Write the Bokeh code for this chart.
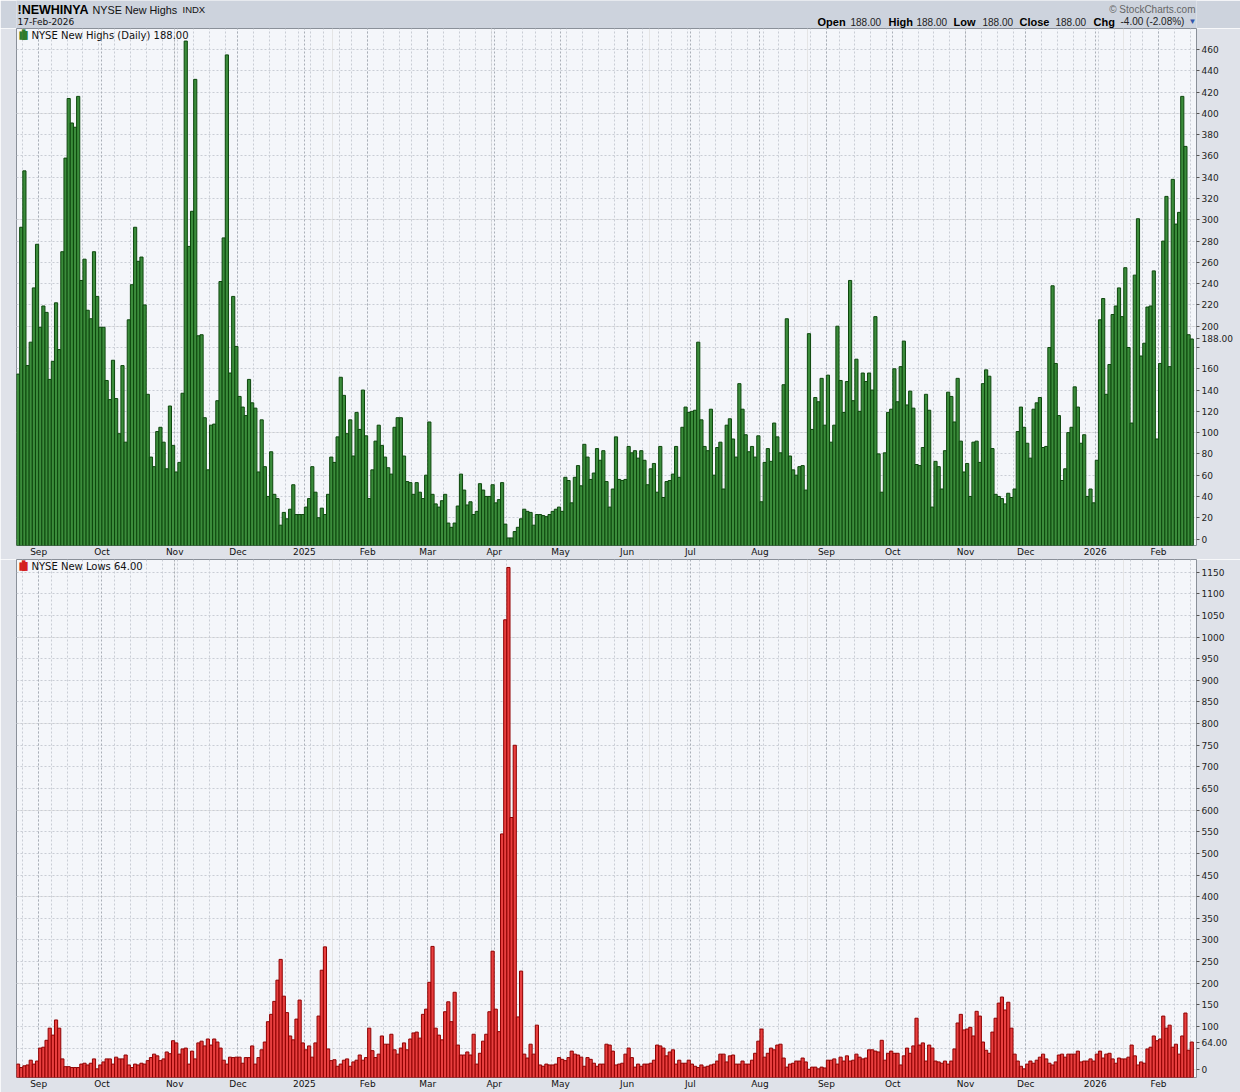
import numpy as np
import pandas as pd
from bokeh.plotting import figure
from bokeh.models import (Range1d, FixedTicker, SingleIntervalTicker, LinearAxis,
                          Grid, Label, ColumnDataSource)
from bokeh.layouts import column
from bokeh.embed import file_html
from bokeh.resources import INLINE

# ---------------- data ----------------
START = "2024-08-22"
END = "2026-02-17"
HOLIDAYS = ["2024-09-02", "2024-11-28", "2024-12-25", "2025-01-01", "2025-01-09",
            "2025-01-20", "2025-02-17", "2025-04-18", "2025-05-26", "2025-06-19",
            "2025-07-04", "2025-09-01", "2025-11-27", "2025-12-25", "2026-01-01",
            "2026-01-19", "2026-02-16"]

new_highs = [
    155, 293, 346, 163, 185, 236, 277, 199, 219, 213,
    150, 167, 222, 178, 270, 358, 414, 391, 387, 416,
    243, 263, 215, 207, 270, 228, 199, 199, 149, 131,
    168, 132, 99, 163, 91, 206, 239, 293, 261, 265,
    220, 136, 77, 68, 101, 105, 91, 66, 125, 88,
    63, 72, 137, 468, 275, 308, 432, 191, 192, 114,
    65, 107, 108, 130, 242, 283, 455, 156, 228, 181,
    134, 124, 116, 150, 128, 123, 63, 112, 68, 40,
    82, 42, 38, 13, 25, 19, 28, 51, 23, 23,
    23, 30, 38,
    68, 44, 20, 29, 23, 42, 77, 72, 96, 152,
    135, 99, 112, 78, 119, 103, 140, 97, 38, 65,
    92, 107, 88, 77, 67, 61, 105, 114, 114, 78,
    54, 53, 42, 53, 44, 38, 60, 110, 42, 33,
    30, 36, 42, 15, 11, 15, 31, 61, 46, 32,
    35, 23, 26, 52, 46, 40, 40, 51, 34, 37,
    53, 14, 1, 1, 7, 11, 19, 28, 26, 25,
    13, 23, 23, 22, 21, 23, 26, 28, 30, 26,
    58, 55, 34, 58, 69, 50, 89, 77, 56, 62,
    85, 74, 83, 54, 30,
    47, 96, 56, 55, 56, 87, 81, 83, 76, 83,
    74, 51, 66, 71, 44, 87, 39, 54, 55, 61,
    87, 58, 105, 124, 119, 120, 121, 185, 112, 87,
    83, 122, 60, 86, 91, 47, 107, 113, 94, 77,
    146, 122, 98, 82, 87, 77, 97, 35, 72, 85,
    73, 109, 96, 81, 145, 207, 78, 65, 60, 68,
    69, 46, 193, 103, 133, 129, 151, 107, 154, 91,
    107, 200, 149, 119, 148, 243, 130, 169, 120, 156,
    148, 156, 140, 209, 80, 44, 81, 119, 122, 160,
    129,
    162, 186, 126, 139, 123, 70, 69, 86, 136, 121,
    30, 73, 68, 47, 83, 138, 134, 110, 151, 92,
    63, 71, 40, 91, 92, 72, 146, 159, 153, 85,
    42, 40, 38, 33, 43, 39, 47, 101, 124, 105,
    90, 76, 122, 128, 133, 86, 87, 180, 238, 165,
    116, 55, 66, 100, 105, 143, 124, 90, 98, 40,
    47, 34, 74, 206, 226, 136, 164, 211, 219, 236,
    209, 255, 180, 109, 248, 301, 172, 184, 218, 219,
    252, 94, 165, 280, 322, 162, 338, 296, 307, 416,
    369, 192, 188,
]

new_lows = [
    13, 5, 9, 11, 22, 13, 20, 50, 52, 68,
    96, 80, 115, 96, 25, 7, 7, 5, 5, 5,
    13, 15, 11, 15, 25, 2, 11, 18, 25, 25,
    13, 29, 25, 25, 34, 11, 5, 13, 11, 15,
    13, 21, 28, 36, 32, 21, 25, 41, 37, 67,
    62, 36, 48, 50, 13, 43, 25, 62, 66, 55,
    71, 57, 71, 64, 50, 22, 13, 29, 28, 29,
    29, 15, 28, 28, 55, 13, 28, 46, 64, 111,
    128, 158, 207, 255, 170, 132, 78, 69, 117, 161,
    62, 46, 55,
    29, 62, 124, 230, 284, 48, 21, 23, 8, 13,
    22, 25, 8, 18, 22, 34, 22, 28, 96, 44,
    28, 36, 78, 59, 59, 82, 46, 36, 50, 62,
    46, 71, 85, 87, 73, 128, 140, 202, 285, 96,
    80, 69, 134, 157, 111, 179, 57, 34, 34, 41,
    34, 82, 13, 38, 66, 82, 134, 274, 140, 88,
    545, 1040, 1161, 583, 750,
    122, 228, 36, 27, 59, 36, 103, 11, 8, 13,
    11, 11, 13, 28, 24, 21, 28, 43, 36, 34,
    29, 8, 28, 24, 15, 8, 13, 13, 59, 57,
    43, 11, 13, 15, 36, 50, 28, 6, 13, 8,
    13, 13, 15, 22, 57, 55, 50, 32, 41, 46,
    13, 22, 15, 15, 22, 13, 8, 5, 11, 6,
    8, 11, 13, 20, 36, 36, 18, 32, 34, 13,
    13, 20, 13, 13, 22, 38, 66, 94, 29, 38,
    50, 46, 57, 59, 27, 6, 13, 15, 20, 20,
    27, 18, 1, 6, 6, 2, 6, 4, 22, 22,
    25, 13, 29, 20, 32, 20, 22, 36, 29, 25,
    27, 46, 46, 43, 41, 68, 22, 38, 43, 38,
    38,
    11, 32, 50, 38, 55, 119, 57, 62, 20, 57,
    50, 20, 18, 15, 20, 13, 20, 48, 108, 128,
    92, 94, 98, 78, 135, 124, 64, 45, 38, 87,
    119, 154, 168, 138, 156, 96, 36, 20, 8, 2,
    13, 20, 15, 22, 29, 36, 25, 15, 11, 18,
    34, 36, 29, 36, 36, 36, 43, 18, 20, 20,
    25, 20, 36, 43, 27, 36, 38, 25, 15, 27,
    25, 25, 29, 57, 32, 11, 18, 15, 48, 52,
    78, 67, 71, 124, 96, 103, 52, 59, 36, 78,
    131, 45, 64,
]

MONTH_NAMES = ["Jan", "Feb", "Mar", "Apr", "May", "Jun",
               "Jul", "Aug", "Sep", "Oct", "Nov", "Dec"]
top_ticks = list(range(0, 461, 20))
bottom_ticks = list(range(0, 1151, 50))

header_symbol = "!NEWHINYA"
header_name = "NYSE New Highs"
header_exch = "INDX"
header_date = "17-Feb-2026"
ohlc_labels = ["Open", "High", "Low", "Close", "Chg"]
ohlc_values = ["188.00", "188.00", "188.00", "188.00", "-4.00 (-2.08%)"]
top_legend = "NYSE New Highs (Daily) 188.00"
bottom_legend = "NYSE New Lows 64.00"

# ---------------- derived ----------------
days = pd.bdate_range(START, END, freq="C", holidays=HOLIDAYS)
n = min(len(days), len(new_highs), len(new_lows))
days = days[-n:]
highs = np.array(new_highs[-n:], dtype=float)
lows = np.array(new_lows[-n:], dtype=float)
xc = np.arange(n) + 0.5

month_pos, month_lab, week_pos = [], {}, []
for i in range(1, n):
    if days[i].month != days[i - 1].month:
        month_pos.append(i)
        month_lab[i] = (str(days[i].year) if days[i].month == 1
                        else MONTH_NAMES[days[i].month - 1])
    if days[i].weekday() < days[i - 1].weekday() or (days[i] - days[i - 1]).days > 3:
        week_pos.append(i)

BG = "#dfe2e9"
HEAD = "#cdd3dd"
PLOT_BG = "#f4f6fa"
OUTLINE = "#8a9099"
GRID = "#c9cdd5"
MGRID = "#a9aeb7"
FONT = "DejaVu Sans"

FRAME_W = 1180
LEFT = 16
TOTAL_W = 1240
RIGHT = TOTAL_W - FRAME_W - LEFT


def panel(values, ymin, ymax, ticks, grid_int, frame_h, bottom_border, fill, line,
          legend, icon_color, hide_tick):
    p = figure(frame_width=FRAME_W, frame_height=frame_h,
               x_range=Range1d(0, n + 1), y_range=Range1d(ymin, ymax),
               output_backend="svg", toolbar_location=None,
               x_axis_location=None, y_axis_location=None,
               min_border_left=LEFT, min_border_right=RIGHT,
               min_border_top=0, min_border_bottom=bottom_border,
               background_fill_color=PLOT_BG, border_fill_color=BG,
               outline_line_color=OUTLINE, outline_line_width=1)
    src = ColumnDataSource(dict(x=xc, top=values))
    p.vbar(x="x", top="top", bottom=ymin, width=1.0, source=src,
           fill_color=fill, line_color=line, line_width=1)

    yg = Grid(dimension=1, ticker=SingleIntervalTicker(interval=grid_int),
              grid_line_color=GRID, grid_line_dash="2 2", grid_line_width=1)
    wg = Grid(dimension=0, ticker=FixedTicker(ticks=week_pos),
              grid_line_color=GRID, grid_line_dash="2 2", grid_line_width=1)
    mg = Grid(dimension=0, ticker=FixedTicker(ticks=month_pos),
              grid_line_color=MGRID, grid_line_dash="2 2", grid_line_width=1)
    for g in (yg, wg, mg):
        p.add_layout(g)

    last = float(values[-1])
    overrides = {int(last): f"{last:.2f}", hide_tick: ""}
    ra = LinearAxis(ticker=FixedTicker(ticks=ticks + [int(last)]),
                    major_label_overrides=overrides)
    ra.axis_line_color = None
    ra.major_tick_line_color = "#555555"
    ra.major_tick_out = 3
    ra.major_tick_in = 0
    ra.minor_tick_line_color = None
    ra.major_label_standoff = 2
    ra.major_label_text_font = FONT
    ra.major_label_text_font_size = "9px"
    ra.major_label_text_color = "#222222"
    p.add_layout(ra, "right")

    ba = LinearAxis(ticker=FixedTicker(ticks=month_pos),
                    major_label_overrides=month_lab)
    ba.axis_line_color = None
    ba.major_tick_line_color = None
    ba.minor_tick_line_color = None
    ba.major_tick_out = 0
    ba.major_tick_in = 0
    ba.major_label_standoff = 1
    ba.major_label_text_font = FONT
    ba.major_label_text_font_size = "9px"
    ba.major_label_text_color = "#111111"
    p.add_layout(ba, "below")

    # legend inside the frame (icon + text)
    ppu = (ymax - ymin) / frame_h
    xpu = (n + 1) / FRAME_W
    for dx, fs in ((3.0, "7px"), (5.6, "9px"), (8.2, "7.5px")):
        p.add_layout(Label(x=dx * xpu, y=ymax - 11 * ppu, text="\u258c",
                           text_align="left", text_baseline="bottom",
                           text_font=FONT, text_font_size=fs,
                           text_color=icon_color))
    p.add_layout(Label(x=15 * xpu, y=ymax - 7 * ppu, text=legend,
                       text_align="left", text_baseline="middle",
                       text_font=FONT, text_font_size="10px",
                       text_color="#111111"))
    return p


top = panel(highs, -6.1, 479.8, top_ticks, 20, 517, 14, "#3b8c3b", "#0d470d",
            top_legend, "#2f7d2f", 180)
bot = panel(lows, -18.0, 1179.4, bottom_ticks, 50, 518, 15, "#e83f3f", "#8f0000",
            bottom_legend, "#d42020", 50)

# ---------------- header (frame aligned with the panels; x in page pixels) ----------------
hd = figure(frame_width=FRAME_W, frame_height=28,
            x_range=Range1d(LEFT, LEFT + FRAME_W), y_range=Range1d(0, 28),
            output_backend="svg", toolbar_location=None,
            x_axis_location=None, y_axis_location=None,
            min_border_left=LEFT, min_border_right=RIGHT,
            min_border_top=0, min_border_bottom=0,
            background_fill_color=HEAD, border_fill_color=HEAD,
            outline_line_color=None)
hd.xgrid.visible = False
hd.ygrid.visible = False


def hl(x, y, t, size, bold=False, color="#111111", align="left", font="Liberation Sans"):
    hd.add_layout(Label(x=x, y=y, text=t, text_align=align, text_baseline="middle",
                        text_font=font, text_font_size=size,
                        text_font_style="bold" if bold else "normal",
                        text_color=color))


hl(17, 19, header_symbol, "12.5px", bold=True, color="#000000")
hl(92, 19, header_name, "10.8px")
hl(182, 19, header_exch, "9.5px")
hl(17, 7, header_date, "9px", font=FONT)
hl(1195, 19, "\u00a9 StockCharts.com", "10px", color="#666666", align="right")

lab_x = [817, 888, 953, 1019, 1093]
val_x = [850, 916, 982, 1055, 1120]
for lx, vx, lt, vt in zip(lab_x, val_x, ohlc_labels, ohlc_values):
    hl(lx, 7, lt, "11px", bold=True, color="#000000")
    hl(vx, 7, vt, "10px", color="#222222")
hl(1188, 7, "\u25bc", "8px", color="#3355aa")

layout = column(hd, top, bot, spacing=0)
open("out.html", "w").write(file_html(layout, INLINE))
